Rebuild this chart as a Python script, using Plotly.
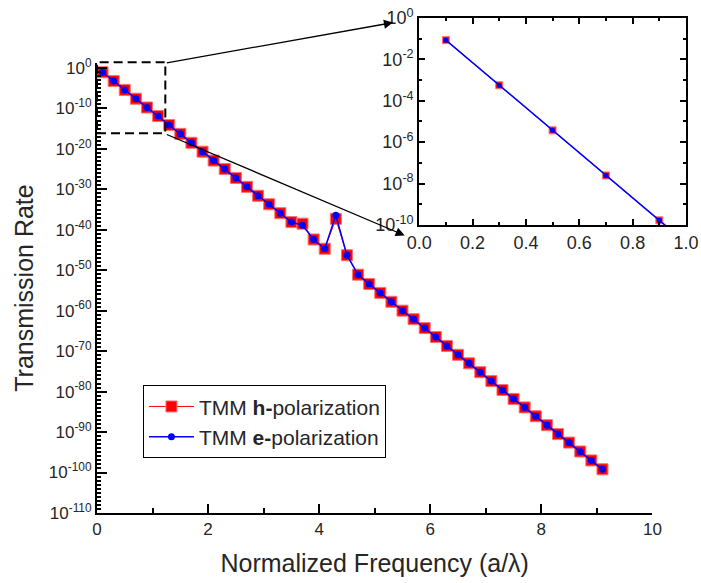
import numpy as np
import plotly.graph_objects as go

# normalized frequency (a/lambda)
freq = [0.1, 0.3, 0.5, 0.7, 0.9, 1.1, 1.3, 1.5, 1.7, 1.9,
        2.1, 2.3, 2.5, 2.7, 2.9, 3.1, 3.3, 3.5, 3.7, 3.9,
        4.1, 4.3, 4.5, 4.7, 4.9, 5.1, 5.3, 5.5, 5.7, 5.9,
        6.1, 6.3, 6.5, 6.7, 6.9, 7.1, 7.3, 7.5, 7.7, 7.9,
        8.1, 8.3, 8.5, 8.7, 8.9, 9.1]

# log10 of transmission
log_h = [-1.07, -3.25, -5.43, -7.61, -9.78, -11.9, -14.1, -16.3, -18.5, -20.7,
         -22.9, -25.0, -27.2, -29.4, -31.6, -33.7, -35.9, -38.1, -38.5, -42.4,
         -44.7, -37.3, -46.3, -51.1, -53.4, -55.6, -57.8, -60.0, -62.1, -64.3,
         -66.5, -68.7, -70.9, -73.0, -75.2, -77.4, -79.6, -81.8, -83.9, -86.1,
         -88.3, -90.5, -92.6, -94.8, -97.0, -99.2]
log_e = [-1.07, -3.25, -5.43, -7.61, -9.78, -11.9, -14.1, -16.3, -18.5, -20.7,
         -22.9, -25.0, -27.2, -29.4, -31.6, -33.7, -35.9, -38.1, -38.9, -42.4,
         -44.7, -36.4, -46.3, -51.1, -53.4, -55.6, -57.8, -60.0, -62.1, -64.3,
         -66.5, -68.7, -70.9, -73.0, -75.2, -77.4, -79.6, -81.8, -83.9, -86.1,
         -88.3, -90.5, -92.6, -94.8, -97.0, -99.2]

t_h = 10.0 ** np.array(log_h)
t_e = 10.0 ** np.array(log_e)

main_exp = list(range(0, -111, -10))
inset_exp = list(range(0, -11, -2))
inset_x = [0.0, 0.2, 0.4, 0.6, 0.8, 1.0]

font = 'Liberation Sans, Arial, sans-serif'
txt = '#262626'

fig = go.Figure()

fig.add_trace(go.Scatter(
    x=freq, y=t_h, name='TMM <b>h-</b>polarization',
    mode='lines+markers',
    line=dict(color='#ff0000', width=1),
    marker=dict(symbol='square', size=11, color='#ff0000',
                line=dict(color='#ff7070', width=1))
))
fig.add_trace(go.Scatter(
    x=freq, y=t_e, name='TMM <b>e-</b>polarization',
    mode='lines+markers',
    line=dict(color='#0000ff', width=1.5),
    marker=dict(symbol='circle', size=7, color='#0000ff')
))

# inset
fig.add_trace(go.Scatter(
    x=freq, y=t_h, xaxis='x2', yaxis='y2', mode='lines+markers',
    line=dict(color='#ff0000', width=1),
    marker=dict(symbol='square', size=7, color='#ff0000',
                line=dict(color='#ff7070', width=1)),
    showlegend=False
))
fig.add_trace(go.Scatter(
    x=freq, y=t_e, xaxis='x2', yaxis='y2', mode='lines+markers',
    line=dict(color='#0000ff', width=1.5),
    marker=dict(symbol='circle', size=5, color='#0000ff'),
    showlegend=False
))

# empty trace so the decade-tick axis gets drawn
fig.add_trace(go.Scatter(x=[None], y=[None], yaxis='y3', showlegend=False,
                         hoverinfo='skip'))

axis_common = dict(showline=True, linecolor='black', linewidth=2,
                   ticks='inside', tickcolor='black', tickwidth=2,
                   showgrid=False, zeroline=False, automargin=False)

fig.update_layout(
    width=701, height=583,
    margin=dict(l=97, r=15, t=18, b=70),
    plot_bgcolor='white', paper_bgcolor='white',
    font=dict(family=font, color=txt),
    xaxis=dict(domain=[0, 0.943], range=[0, 10],
               tickvals=[0, 2, 4, 6, 8, 10], ticklen=9,
               minor=dict(tickvals=[1, 3, 5, 7, 9], ticklen=5, ticks='inside',
                          tickcolor='black', tickwidth=2),
               tickfont=dict(size=17),
               title=dict(text='Normalized Frequency (a/λ)', font=dict(size=25), standoff=16),
               **axis_common),
    yaxis=dict(domain=[0, 0.909], type='log', range=[-110, 1.2],
               tickvals=[10.0**k for k in main_exp],
               ticktext=['10<sup>%d</sup>' % k for k in main_exp],
               ticklen=10,
               tickfont=dict(size=17),
               title=dict(text='Transmission Rate', font=dict(size=25), standoff=8),
               **axis_common),
    yaxis3=dict(domain=[0, 0.909], type='log', range=[-110, 1.2], overlaying='y',
                anchor='x', side='left', showline=False, showgrid=False,
                zeroline=False, automargin=False, showticklabels=False,
                tickvals=[10.0**-k for k in range(0, 111)],
                ticks='inside', ticklen=4, tickwidth=1.5, tickcolor='black'),
    xaxis2=dict(domain=[0.547, 1.0], anchor='y2', range=[0, 1],
                tickvals=inset_x, ticktext=['%.1f' % v for v in inset_x],
                ticklen=6, mirror='allticks', ticklabeloverflow='allow',
                minor=dict(dtick=0.1, ticklen=3, ticks='inside',
                           tickcolor='black', tickwidth=1.5),
                tickfont=dict(size=18),
                **axis_common),
    yaxis2=dict(domain=[0.582, 1.0], anchor='x2', type='log', range=[-10, 0],
                tickvals=[10.0**k for k in inset_exp],
                ticktext=['10<sup>%d</sup>' % k for k in inset_exp],
                ticklen=6, mirror='allticks', ticklabeloverflow='allow',
                minor=dict(dtick=1, ticklen=3, ticks='inside',
                           tickcolor='black', tickwidth=1.5),
                tickfont=dict(size=18),
                **axis_common),
    legend=dict(x=0.078, y=0.258, xanchor='left', yanchor='top',
                bgcolor='white', bordercolor='black', borderwidth=1,
                font=dict(size=21, color=txt), itemwidth=45,
                tracegroupgap=0),
    showlegend=True,
)

# dashed zoom box
fig.add_shape(type='rect', xref='x', yref='paper',
              x0=0, x1=1.23, y0=(513 - 133.3) / 495, y1=(513 - 62.3) / 495,
              line=dict(color='black', width=2, dash='9px,5px'))

# arrows from zoom box to inset
fig.add_annotation(x=5.33, y=11.2, ax=1.23, ay=1.2, xref='x', yref='y',
                   axref='x', ayref='y', showarrow=True, arrowhead=2,
                   arrowsize=1.4, arrowwidth=1.3, arrowcolor='black', text='')
fig.add_annotation(x=5.54, y=-41.4, ax=1.23, ay=-16.3, xref='x', yref='y',
                   axref='x', ayref='y', showarrow=True, arrowhead=2,
                   arrowsize=1.4, arrowwidth=1.3, arrowcolor='black', text='')

# drop the default 8px page margin so the figure sits at the window corner
fig.write_html("out.html", config={'displayModeBar': False},
               post_script="document.body.style.margin='0px';")
